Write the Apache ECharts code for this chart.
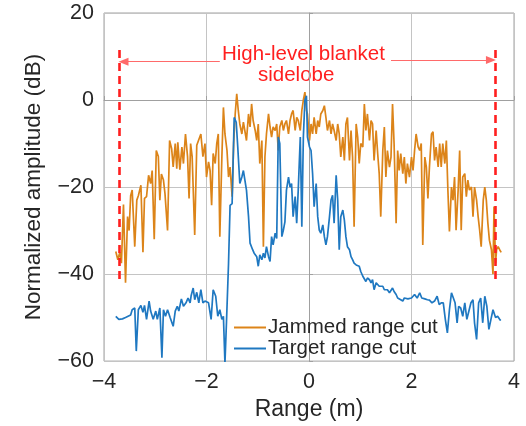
<!DOCTYPE html>
<html>
<head>
<meta charset="utf-8">
<script src="https://cdn.jsdelivr.net/npm/echarts@6/dist/echarts.min.js"></script>
<style>
html,body{margin:0;padding:0;background:#fff;}
#chart{width:526px;height:426px;}
</style>
</head>
<body>
<div id="chart"></div>
<script>
// Tick values
var xTicks = [-4, -2, 0, 2, 4];
var yTicks = [-60, -40, -20, 0, 20];

// Jammed range cut
var jammedX = [-3.77,-3.73,-3.69,-3.66,-3.62,-3.58,-3.54,-3.51,-3.48,-3.45,-3.40,-3.36,-3.33,-3.28,-3.24,-3.21,-3.17,-3.13,-3.09,-3.06,-3.02,-2.98,-2.94,-2.91,-2.88,-2.84,-2.81,-2.76,-2.72,-2.68,-2.65,-2.61,-2.58,-2.56,-2.52,-2.48,-2.45,-2.41,-2.37,-2.34,-2.31,-2.28,-2.23,-2.19,-2.16,-2.11,-2.07,
-2.03,-2.00,-1.96,-1.93,-1.90,-1.87,-1.83,-1.80,-1.77,-1.74,-1.70,-1.67,-1.64,-1.60,-1.57,-1.54,-1.50,-1.47,-1.44,-1.41,-1.38,-1.35,-1.31,-1.28,-1.25,-1.22,-1.18,-1.15,-1.12,-1.09,-1.05,-1.02,-0.99,-0.96,-0.92,-0.89,-0.86,-0.83,-0.79,-0.76,-0.73,-0.70,-0.66,-0.63,-0.60,-0.57,-0.53,-0.50,-0.47,-0.44,-0.40,-0.37,-0.34,-0.31,-0.27,-0.24,-0.21,-0.17,-0.14,-0.11,-0.08,-0.05,
-0.03,0.01,0.04,0.07,0.10,0.14,0.17,0.20,0.23,0.27,0.30,0.33,0.36,0.40,0.43,0.46,0.49,0.53,0.56,0.59,0.62,0.66,0.69,0.72,0.75,0.79,0.82,0.85,0.88,0.92,0.95,0.98,1.01,1.05,1.08,1.11,1.14,1.18,1.21,1.24,1.27,1.31,1.34,1.37,1.40,1.44,1.47,1.50,1.53,1.57,1.60,1.63,1.66,1.70,1.73,1.76,1.79,1.83,1.86,1.89,1.92,
1.96,2.00,2.03,2.06,2.09,2.13,2.16,2.19,2.22,2.26,2.29,2.32,2.35,2.39,2.42,2.45,2.48,2.52,2.55,2.58,2.61,2.65,2.68,2.71,2.74,2.78,2.81,2.84,2.87,2.91,2.94,2.97,3.00,3.04,3.07,3.10,3.13,3.17,3.20,3.23,3.27,3.30,3.33,3.36,3.40,3.43,3.46,3.49,3.52,3.56,3.59,3.61,3.64,3.66,3.69,3.72,3.75];
var jammedY = [-34.8,-36.7,-35,-37.5,-24,-42,-26.8,-30,-22,-20.7,-33.7,-23,-22,-19.6,-35,-22.6,-22.2,-17.3,-19.2,-16.2,-32,-11.6,-13,-23,-17,-18.4,-21.5,-30,-9.3,-11.2,-15.4,-10,-15.8,-9.7,-16,-10.8,-14.6,-7.8,-13,-22.6,-10,-13,-31,-10.4,-10,-7.8,-13,
-10,-17.7,-14.2,-16.2,-24.2,-12.3,-14.6,-10,-7.8,-31.4,-13.1,-1.7,-7.8,-11.6,-17.7,-15.4,-22.2,-10,-3.2,1.4,-2.4,-5.5,-7.8,-5.1,-5.5,-9.3,-3.2,-6.2,-0.9,-4.7,-7,-9.3,-5.5,-14.6,-9.3,-33.7,-13.1,-7.8,-3.2,-6.2,-8.5,-6.2,-7,-5.5,-11.6,-6.2,-4.7,-7,-5.5,-4.7,-7.8,-4.7,-3.2,-2.4,-7,-4,-4.7,-7,-2.4,0,1.8,-2.4,
-3.2,-9.3,-5.5,-7.8,-4,-7.8,-4.7,-6.2,-3.2,-2.4,-1.3,-4,-7,-4.7,-7.8,-5.5,-7,-9.3,-5.5,-7.8,-13.1,-8.5,-13.9,-5.5,-4,-13.9,-7,-13.1,-29.1,-5.5,-8.5,-14.6,-10,-10.8,-0.9,-7,-3.2,-9.3,-4.7,-5.5,-13.9,-7,-12.3,-16.9,-26.8,-11.6,-6.2,-17.7,-11.6,-15.4,-13.1,-0.9,-10,-28.3,-11.6,-16.2,-12.3,-16.9,-13.1,-19.2,-14.6,
-17.7,-13.1,-16.2,-11.6,-7.8,-10.8,-11.6,-10,-33.3,-13.1,-15.4,-22.6,-15.4,-7.8,-7.3,-13.9,-10.8,-15.4,-10,-15.4,-10,-14.6,-9.3,-20.7,-30.2,-20,-23,-17.7,-29.9,-20.7,-11.6,-29.9,-17.7,-16.9,-22.2,-18.4,-20.7,-20,-26.8,-20,-23,-26.8,-29.9,-33.7,-23,-20,-23,-28.3,-32.2,-34.4,-40,-24.5,-37.5,-34.4,-33.7,-34.4,-35];

// Target range cut
var targetX = [-3.77,-3.71,-3.64,-3.58,-3.53,-3.48,-3.45,-3.40,-3.37,-3.33,-3.28,-3.24,-3.21,-3.17,-3.12,-3.09,-3.04,-2.99,-2.96,-2.91,-2.87,-2.84,-2.80,-2.76,-2.71,-2.65,-2.61,-2.57,-2.54,-2.49,-2.45,-2.40,-2.36,-2.32,-2.30,-2.26,-2.23,-2.19,-2.15,-2.11,-2.07,
-2.03,-1.96,-1.91,-1.87,-1.82,-1.78,-1.74,-1.70,-1.67,-1.64,-1.61,-1.57,-1.54,-1.50,-1.46,-1.42,-1.39,-1.35,-1.31,-1.28,-1.25,-1.22,-1.18,-1.15,-1.10,-1.07,-1.02,-0.99,-0.96,-0.92,-0.89,-0.86,-0.83,-0.79,-0.76,-0.73,-0.70,-0.66,-0.63,-0.60,-0.57,-0.53,-0.50,-0.47,-0.44,-0.40,-0.37,-0.34,-0.31,-0.27,-0.24,-0.21,-0.17,-0.14,-0.11,-0.08,-0.05,
-0.03,0.01,0.04,0.07,0.10,0.14,0.17,0.20,0.23,0.27,0.30,0.33,0.36,0.40,0.43,0.46,0.49,0.53,0.56,0.59,0.62,0.66,0.69,0.72,0.75,0.79,0.82,0.85,0.88,0.92,0.95,0.98,1.01,1.05,1.08,1.11,1.14,1.18,1.21,1.24,1.27,1.31,1.34,1.37,1.40,1.44,1.47,1.50,1.53,1.57,1.60,1.63,1.66,1.70,1.73,1.76,1.79,1.83,1.86,1.89,
1.93,2.00,2.06,2.11,2.16,2.20,2.26,2.31,2.35,2.40,2.45,2.50,2.54,2.58,2.62,2.66,2.70,2.74,2.78,2.81,2.85,2.89,2.92,2.96,3.00,3.04,3.08,3.12,3.16,3.20,3.23,3.27,3.31,3.35,3.39,3.43,3.47,3.51,3.55,3.59,3.64,3.68,3.72,3.74];
var targetY = [-49.7,-50.4,-50.3,-50,-49.7,-49.4,-48.2,-47.8,-57.7,-48.2,-47.2,-48.8,-47.2,-50.4,-46.2,-48.5,-50.4,-48.5,-50.4,-47.8,-59.2,-48.2,-49.7,-48.2,-50,-52,-48.5,-47.4,-48.5,-45.7,-47.4,-46.6,-45.5,-46.6,-45,-43.2,-45.9,-44.2,-46.6,-43.6,-46.6,
-46.2,-46.6,-50.4,-43.6,-45.1,-49.7,-48.2,-50.4,-49.7,-60.5,-51,-37.5,-24.2,-23.8,-4,-5.1,-10.8,-19.2,-17.7,-16.2,-16.2,-20.7,-26.8,-32.9,-34.4,-35.2,-36,-38.2,-35.6,-36.7,-35.2,-36.3,-33.7,-36,-37.1,-31.4,-33.3,-30.6,-31.8,-8.5,-10,-31.4,-29.9,-28,-20.7,-17.7,-20,-19.2,-26.8,-22.2,-28.3,-20.7,-8.5,-29.1,-8.5,0,1,
-8.5,-10.8,-11.6,-16.9,-24.5,-19.2,-26.8,-29.9,-30.6,-28.7,-31.4,-33.3,-31.4,-26.8,-23,-21.9,-28.3,-17.3,-23,-34.4,-26.8,-25.3,-27.6,-31.4,-33.7,-34.4,-36,-36.7,-37.5,-37.9,-38.2,-38.2,-39.4,-40.5,-40.2,-41.7,-40.9,-41.3,-42,-41.3,-43.6,-42,-42.4,-42.8,-43.2,-42.8,-43.6,-44,-43.6,-44.3,-44.5,-43.2,-44,-44.7,-45.5,-45.3,-45.9,-46.2,-45.5,-45.9,
-45.7,-45.5,-44.7,-45.5,-44.3,-45.5,-45.7,-45.9,-46,-46.6,-46.2,-45.1,-47,-46.6,-46.6,-50.4,-53.5,-48.2,-44.3,-44,-46.6,-51.2,-47.4,-47.8,-49.7,-46.6,-50.4,-48.5,-46.6,-45.9,-51.2,-55,-46.6,-45.5,-51.2,-45.1,-47.4,-52.7,-50.4,-48.2,-50,-49.7,-50.4,-50.7];

// Annotation: blanket sidelobe extent
var blanketEdges = [-3.71, 3.63];
var blanketSpan = [11.5, -42.3];
var arrowLeft = [[-1.74, 8.8], [-3.62, 8.8]];
var arrowRight = [[1.60, 9.2], [3.55, 9.2]];

var seriesNames = ['Jammed range cut', 'Target range cut'];

function zip(xs, ys) { return xs.map(function (x, i) { return [x, ys[i]]; }); }
function minus(v) { return String(v).replace('-', '\u2212'); }

var FONT = '"Liberation Sans", Arial, sans-serif';
var TXT = '#262626';
var RED = '#ff1f1f';

var chart = echarts.init(document.getElementById('chart'), null, {renderer: 'canvas'});
chart.setOption({
  animation: false,
  textStyle: {fontFamily: FONT},
  grid: {left: 104, right: 12, top: 13, bottom: 64, show: true, borderColor: '#a0a0a0', borderWidth: 1, backgroundColor: 'transparent'},
  legend: {
    data: seriesNames,
    orient: 'vertical',
    left: 229, top: 312,
    itemWidth: 32, itemHeight: 14, itemGap: 0,
    textStyle: {fontSize: 20.5, color: TXT, fontFamily: FONT, padding: [0, 0, 0, -3]},
    icon: 'path://M0,6 L32,6 L32,8 L0,8 Z'
  },
  xAxis: {
    type: 'value', min: xTicks[0], max: xTicks[xTicks.length - 1], interval: xTicks[1] - xTicks[0],
    name: 'Range (m)', nameLocation: 'middle', nameGap: 36,
    nameTextStyle: {fontSize: 23, color: TXT, fontFamily: FONT},
    axisLine: {show: true, lineStyle: {color: '#a0a0a0', width: 1}},
    axisTick: {show: true, inside: true, length: 4, lineStyle: {color: '#a0a0a0'}},
    axisLabel: {fontSize: 21.5, color: TXT, margin: 10, formatter: minus, fontFamily: FONT},
    splitLine: {show: true, lineStyle: {color: '#c4c4c4', width: 1}}
  },
  yAxis: {
    type: 'value', min: yTicks[0], max: yTicks[yTicks.length - 1], interval: yTicks[1] - yTicks[0],
    name: 'Normalized amplitude (dB)', nameLocation: 'middle', nameGap: 59,
    nameTextStyle: {fontSize: 22.5, color: TXT, fontFamily: FONT},
    axisLine: {show: true, lineStyle: {color: '#a0a0a0', width: 1}},
    axisTick: {show: true, inside: true, length: 4, lineStyle: {color: '#a0a0a0'}},
    axisLabel: {fontSize: 21.5, color: TXT, margin: 10, formatter: minus, fontFamily: FONT},
    splitLine: {show: true, lineStyle: {color: '#c4c4c4', width: 1}}
  },
  series: [
    {
      name: seriesNames[0], type: 'line', data: zip(jammedX, jammedY),
      symbol: 'none', lineStyle: {color: '#dc8419', width: 1.7}, itemStyle: {color: '#dc8419'}, z: 2
    },
    {
      name: seriesNames[1], type: 'line', data: zip(targetX, targetY),
      symbol: 'none', lineStyle: {color: '#1f78c1', width: 1.7}, itemStyle: {color: '#1f78c1'}, z: 3
    },
    {
      name: 'annotation', type: 'line', data: [], z: 5, silent: true,
      markLine: {
        silent: true, animation: false,
        label: {show: false},
        data: [
          [{coord: [blanketEdges[0], blanketSpan[0]], symbol: 'none', lineStyle: {color: RED, width: 2.6, type: [8, 5]}},
           {coord: [blanketEdges[0], blanketSpan[1]], symbol: 'none'}],
          [{coord: [blanketEdges[1], blanketSpan[0]], symbol: 'none', lineStyle: {color: RED, width: 2.6, type: [8, 5]}},
           {coord: [blanketEdges[1], blanketSpan[1]], symbol: 'none'}],
          [{coord: arrowLeft[0], symbol: 'none', lineStyle: {color: '#ff6a6a', width: 1, type: 'solid'}},
           {coord: arrowLeft[1], symbol: 'triangle', symbolSize: [8, 10]}],
          [{coord: arrowRight[0], symbol: 'none', lineStyle: {color: '#ff6a6a', width: 1, type: 'solid'}},
           {coord: arrowRight[1], symbol: 'triangle', symbolSize: [8, 10]}]
        ]
      }
    }
  ],
  graphic: [
    {type: 'text', left: 222, top: 44, style: {text: 'High-level blanket', fill: RED, font: '20.5px ' + FONT}},
    {type: 'text', left: 258, top: 65, style: {text: 'sidelobe', fill: RED, font: '20.5px ' + FONT}}
  ]
});
</script>
</body>
</html>
